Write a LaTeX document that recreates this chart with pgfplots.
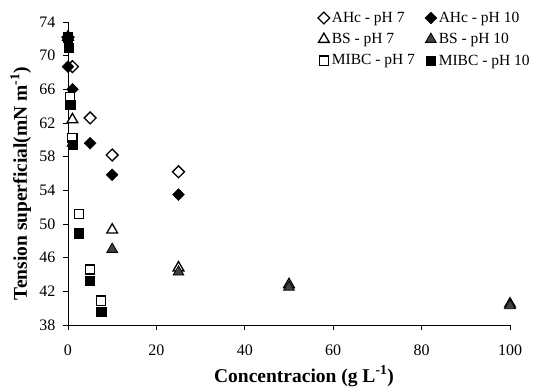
\documentclass[border=0pt]{standalone}
\usepackage{fontspec}
\setmainfont{Liberation Serif}
\usepackage{pgfplots}
\pgfplotsset{compat=1.18}
\begin{document}
\begin{tikzpicture}
\useasboundingbox (-68pt,-61pt) rectangle (467pt,325pt);
\begin{axis}[
  at={(0,0)}, anchor=south west,
  scale only axis, width=442pt, height=303pt,
  xmin=0, xmax=100, ymin=38, ymax=74,
  xtick={0,20,...,100}, ytick={38,42,...,74},
  axis lines=left, axis line style={-, line width=0.8pt},
  tick style={black, line width=0.8pt}, major tick length=5pt,
  tick align=outside,
  clip=false,
  /pgf/number format/assume math mode=true,
  tick label style={font=\fontsize{16}{18}\selectfont},
  xticklabel style={yshift=-11pt},
  yticklabel style={xshift=-4pt},
  xlabel={\textbf{Concentracion (g L\textsuperscript{-1})}},
  ylabel={\textbf{Tension superficial(mN m\textsuperscript{-1})}},
  label style={font=\fontsize{19.5}{22}\selectfont},
  xlabel style={at={(axis description cs:0.5,0)}, anchor=base, yshift=-57pt, xshift=15pt},
  ylabel style={at={(axis description cs:0,0.5)}, anchor=base, yshift=41pt, xshift=-10pt},
  legend columns=2,
  legend style={draw=none, fill=none, at={(rel axis cs:0.565,1.04)}, anchor=north west,
    font=\fontsize{15.5}{17}\selectfont, row sep=5.5pt, inner sep=0pt,
    /tikz/every even column/.append style={column sep=8pt}},
  legend cell align=left,
]
\addplot[only marks, mark=square*, mark size=4.2pt, mark options={rotate=45, fill=white, draw=black, line width=1.3pt}]
  coordinates {(0,72.2) (1,68.7) (5,62.6) (10,58.2) (25,56.2)};
\addlegendentry{AHc - pH 7}
\addplot[only marks, mark=square*, mark size=4.2pt, mark options={rotate=45, fill=black, draw=black}]
  coordinates {(0,72.2) (0,68.7) (1,66.0) (5,59.6) (10,55.85) (25,53.5)};
\addlegendentry{AHc - pH 10}
\addplot[only marks, mark=triangle*, mark size=6.2pt, mark options={fill=white, draw=black, line width=1.3pt}]
  coordinates {(0,72.2) (1,62.4) (10,49.3) (25,44.8) (50,42.8) (100,40.5)};
\addlegendentry{BS - pH 7}
\addplot[only marks, mark=triangle*, mark size=6.2pt, mark options={fill=black!75, draw=black, line width=0.8pt}]
  coordinates {(0,72.2) (1,59.6) (10,47.0) (25,44.3) (50,42.5) (100,40.3)};
\addlegendentry{BS - pH 10}
\addplot[only marks, mark=square*, mark size=4.6pt, mark options={fill=white, draw=black, line width=1.3pt}]
  coordinates {(0,72.2) (0.5,65.1) (1,60.2) (2.5,51.2) (5,44.6) (7.5,40.9)};
\addlegendentry{MIBC - pH 7}
\addplot[only marks, mark=square*, mark size=4.6pt, mark options={fill=black, draw=black}]
  coordinates {(0,72.2) (0.1,70.9) (0.5,64.2) (1,59.4) (2.5,48.9) (5,43.3) (7.5,39.6)};
\addlegendentry{MIBC - pH 10}
\end{axis}
\end{tikzpicture}
\end{document}
